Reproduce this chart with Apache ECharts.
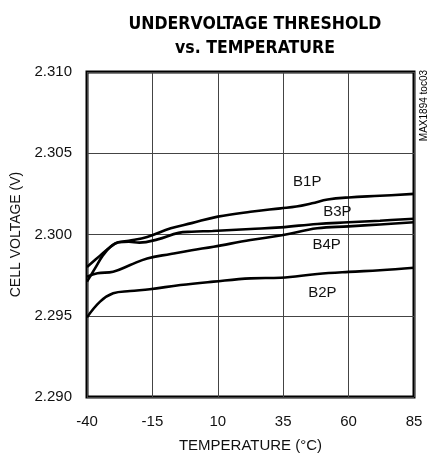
<!DOCTYPE html>
<html><head><meta charset="utf-8">
<script src="https://cdn.jsdelivr.net/npm/echarts@6/dist/echarts.min.js"></script>
<style>html,body{margin:0;padding:0;background:#fff}#c{width:430px;height:455px}</style>
</head><body><div id="c"></div>
<script>
const xTicks = [-40, -15, 10, 35, 60, 85];
const yTicks = [2.290, 2.295, 2.300, 2.305, 2.310];
const B1P = [[-40,2.2971],[-37,2.2979],[-34,2.2987],[-31,2.29925],[-28,2.29952],[-24,2.29962],[-17,2.29985],[-8,2.30038],[0,2.3007],[10,2.30110],[22.5,2.30140],[34,2.30161],[40,2.30172],[46,2.30192],[52,2.30215],[60,2.30228],[72,2.30238],[85,2.3025]];
const B3P = [[-40,2.2980],[-35,2.2987],[-31,2.29925],[-28,2.29952],[-24,2.29955],[-20,2.2995],[-13,2.2997],[-5,2.3001],[0,2.30017],[8,2.30022],[22.5,2.30034],[34,2.30044],[48,2.30065],[60,2.30075],[72,2.30085],[85,2.30097]];
const B4P = [[-40,2.2974],[-36,2.29761],[-30,2.29771],[-23.5,2.29812],[-17,2.29853],[-8,2.2988],[0,2.29903],[8.4,2.29925],[22.5,2.29966],[35,2.29997],[48,2.30038],[60,2.3005],[72,2.30062],[85,2.30075]];
const B2P = [[-40,2.2949],[-35,2.29587],[-30,2.29638],[-23.5,2.29652],[-16,2.29663],[-4.3,2.29689],[8.4,2.2971],[22.5,2.2973],[34,2.29734],[48,2.29757],[60,2.2977],[72,2.2978],[85,2.29795]];
const seriesNames = ['B1P','B3P','B4P','B2P'];
const seriesData = [B1P, B3P, B4P, B2P];
const labelPos = [[44.2,2.30325],[55.7,2.30140],[51.6,2.29935],[50.0,2.29638]];

const FONT = "'Liberation Sans',Arial,sans-serif";
const TFONT = "'DejaVu Sans Condensed','DejaVu Sans',sans-serif";
const chart = echarts.init(document.getElementById('c'), null, {renderer:'canvas'});
chart.setOption({
  animation:false,
  title:{
    text:'UNDERVOLTAGE THRESHOLD\nvs. TEMPERATURE',
    left:250, top:7, textAlign:'center',
    textStyle:{fontFamily:TFONT, fontWeight:'bold', fontSize:17.5, lineHeight:24, color:'#000'}
  },
  grid:{left:87, right:16, top:72, bottom:58, show:true, borderColor:'#000', borderWidth:3, backgroundColor:'transparent', containLabel:false, outerBoundsMode:'none'},
  xAxis:{
    type:'value', min:xTicks[0], max:xTicks[xTicks.length-1], interval:25,
    name:'TEMPERATURE (°C)', nameLocation:'middle', nameGap:41,
    nameTextStyle:{fontFamily:FONT, fontSize:15, color:'#111'},
    axisLine:{show:false}, axisTick:{show:false},
    axisLabel:{fontFamily:FONT, fontSize:15, color:'#111', margin:17},
    splitLine:{show:true, lineStyle:{color:'#444', width:1}}
  },
  yAxis:{
    type:'value', min:yTicks[0], max:yTicks[yTicks.length-1], interval:0.005,
    name:'CELL VOLTAGE (V)', nameLocation:'middle', nameGap:62,
    nameTextStyle:{fontFamily:FONT, fontSize:14, color:'#111'},
    axisLine:{show:false}, axisTick:{show:false},
    axisLabel:{fontFamily:FONT, fontSize:15, color:'#111', margin:15, formatter:v=>v.toFixed(3)},
    splitLine:{show:true, lineStyle:{color:'#444', width:1}}
  },
  graphic:[{
    type:'text', left:419, top:70, rotation:Math.PI/2,
    style:{text:'MAX1894 toc03', font:"10px "+FONT, fill:'#000'}
  }],
  series: seriesData.map((d,i)=>({
    name:seriesNames[i], type:'line', data:d, smooth:0.4, showSymbol:false,
    lineStyle:{color:'#000', width:2.6},
    markPoint:{symbol:'circle', symbolSize:0, silent:true,
      data:[{coord:labelPos[i], label:{show:true, formatter:seriesNames[i], fontFamily:FONT, fontSize:15, color:'#111', position:'inside'}}]}
  }))
});
</script></body></html>
